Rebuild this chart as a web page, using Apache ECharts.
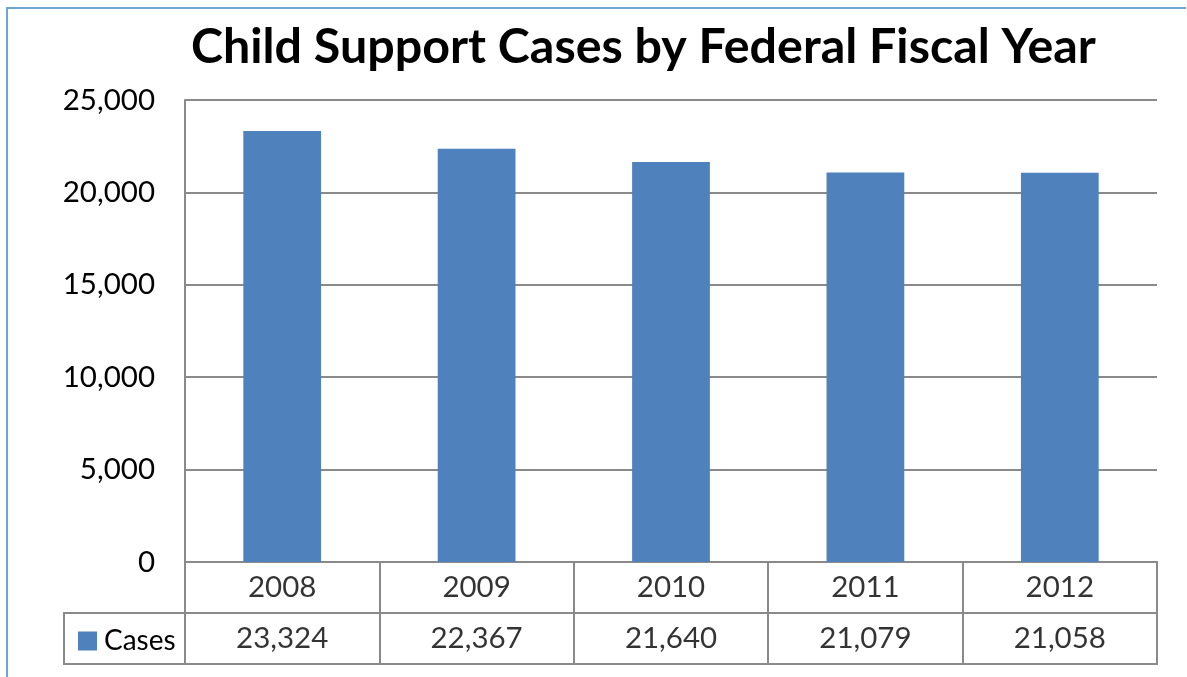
<!DOCTYPE html>
<html>
<head>
<meta charset="utf-8">
<script src="https://cdn.jsdelivr.net/npm/echarts@6/dist/echarts.min.js"></script>
<style>
html,body{margin:0;padding:0;background:#fff;}
#chart{width:1187px;height:677px;}
</style>
</head>
<body>
<div id="chart"></div>
<script>
const titleText = 'Child Support Cases by Federal Fiscal Year';
const seriesName = 'Cases';
const years = ['2008', '2009', '2010', '2011', '2012'];
const cases = [23324, 22367, 21640, 21079, 21058];
const yTicks = { min: 0, max: 25000, interval: 5000 };

const FONT = 'Lato, "Open Sans", sans-serif';
const GRID_COLOR = '#8a8a8a';
const fmt = v => v.toLocaleString('en-US');

const chart = echarts.init(document.getElementById('chart'), null, { renderer: 'canvas' });
chart.setOption({
  animation: false,
  backgroundColor: '#ffffff',
  title: {
    text: titleText,
    left: 186,
    top: 18,
    textStyle: { fontFamily: FONT, fontWeight: 'bold', fontSize: 48.4, color: '#000' }
  },
  legend: {
    data: [seriesName],
    left: 73,
    top: 622,
    icon: 'rect',
    itemWidth: 19,
    itemHeight: 19,
    itemGap: 0,
    selectedMode: false,
    textStyle: { fontFamily: FONT, fontSize: 28, color: '#000', padding: [0, 0, 0, 2] }
  },
  graphic: [{
    type: 'polyline',
    shape: { points: [[7, 677], [7, 8], [1186, 8]] },
    style: { stroke: '#6fa6d0', lineWidth: 2, fill: null },
    silent: true
  }],
  grid: [
    { left: 185, right: 30, top: 100, bottom: 115 },
    { left: 185, right: 30, top: 562, bottom: 13, show: true, borderColor: GRID_COLOR, borderWidth: 2 },
    { left: 64, width: 121, top: 613, bottom: 13, show: true, borderColor: GRID_COLOR, borderWidth: 2 }
  ],
  xAxis: [
    {
      type: 'category', data: years, gridIndex: 0,
      axisLine: { show: true, lineStyle: { color: GRID_COLOR, width: 2 } },
      axisTick: { show: false }, axisLabel: { show: false }
    },
    {
      type: 'category', data: years, gridIndex: 1,
      axisLine: { show: false }, axisTick: { show: false }, axisLabel: { show: false },
      splitLine: { show: true, lineStyle: { color: GRID_COLOR, width: 2 } }
    }
  ],
  yAxis: [
    {
      type: 'value', gridIndex: 0, min: yTicks.min, max: yTicks.max, interval: yTicks.interval,
      axisLine: { show: true, lineStyle: { color: GRID_COLOR, width: 2 } },
      axisTick: { show: false },
      axisLabel: { fontFamily: FONT, fontSize: 29.5, color: '#000', margin: 30, formatter: v => fmt(v) },
      splitLine: { show: true, lineStyle: { color: GRID_COLOR, width: 2 } }
    },
    {
      type: 'category', data: ['year', 'value'], inverse: true, gridIndex: 1,
      axisLine: { show: false }, axisTick: { show: false }, axisLabel: { show: false },
      splitLine: { show: true, lineStyle: { color: GRID_COLOR, width: 2 } }
    }
  ],
  series: [
    {
      name: seriesName, type: 'bar', xAxisIndex: 0, yAxisIndex: 0,
      data: cases, barWidth: '40%',
      itemStyle: { color: '#4f81bd' }
    },
    {
      name: 'yearRow', type: 'scatter', xAxisIndex: 1, yAxisIndex: 1,
      symbolSize: 0, silent: true,
      data: years.map((y, i) => [i, 0, y]),
      label: { show: true, position: 'inside', formatter: p => p.value[2], fontFamily: FONT, fontSize: 29.5, color: '#000' }
    },
    {
      name: 'valueRow', type: 'scatter', xAxisIndex: 1, yAxisIndex: 1,
      symbolSize: 0, silent: true,
      data: cases.map((v, i) => [i, 1, fmt(v)]),
      label: { show: true, position: 'inside', formatter: p => p.value[2], fontFamily: FONT, fontSize: 29.5, color: '#000' }
    }
  ]
});
</script>
</body>
</html>
